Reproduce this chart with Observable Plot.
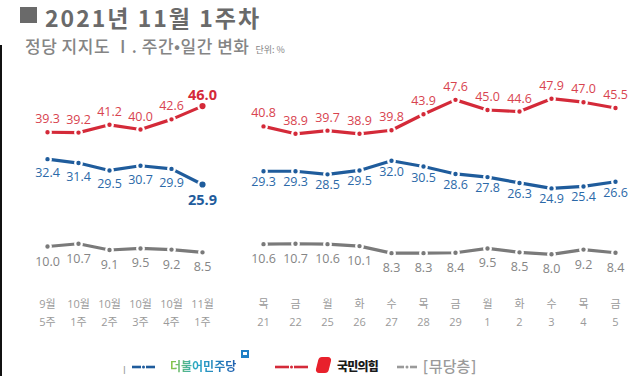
<!DOCTYPE html>
<html><head><meta charset="utf-8">
<script src="https://cdn.jsdelivr.net/npm/d3@7"></script>
<script src="https://cdn.jsdelivr.net/npm/@observablehq/plot@0.6"></script>
<style>
body{margin:0;background:#fff;width:639px;height:376px;overflow:hidden;position:relative;font-family:'Noto Sans CJK KR',sans-serif}
#border{position:absolute;left:0;top:45px;width:2px;bottom:0;background:#111}
#sq{position:absolute;left:20px;top:7px;width:17px;height:16px;background:#6a6a6a}
#title{position:absolute;left:45px;top:5px;font-size:23px;line-height:24px;font-weight:700;color:#6a6a6a;white-space:nowrap;letter-spacing:2px}
#sub{position:absolute;left:25px;top:35px;font-size:17px;line-height:22px;font-weight:500;color:#858585;white-space:nowrap;letter-spacing:0.5px}
#sub small{font-size:9px;font-weight:400;margin-left:6px;letter-spacing:0}
#left{position:absolute;left:0;top:60px}
#right{position:absolute;left:230px;top:60px}
.lg{position:absolute;white-space:nowrap}
</style></head><body>
<div id="border"></div>
<div id="sq"></div>
<div id="title">2021년 11월 1주차</div>
<div id="sub">정당 지지도 Ⅰ. 주간•일간 변화<small>단위: %</small></div>
<div id="left"></div>
<div id="right"></div>
<div id="legend"></div>
<script>
const leftLabels = ["9월\n5주","10월\n1주","10월\n2주","10월\n3주","10월\n4주","11월\n1주"];
const leftDP   = [32.4,31.4,29.5,30.7,29.9,25.9];
const leftPPP  = [39.3,39.2,41.2,40.0,42.6,46.0];
const leftNone = [10.0,10.7,9.1,9.5,9.2,8.5];

const rightLabels = ["목\n21","금\n22","월\n25","화\n26","수\n27","목\n28","금\n29","월\n1","화\n2","수\n3","목\n4","금\n5"];
const rightDP   = [29.3,29.3,28.5,29.5,32.0,30.5,28.6,27.8,26.3,24.9,25.4,26.6];
const rightPPP  = [40.8,38.9,39.7,38.9,39.8,43.9,47.6,45.0,44.6,47.9,47.0,45.5];
const rightNone = [10.6,10.7,10.6,10.1,8.3,8.3,8.4,9.5,8.5,8.0,9.2,8.4];

const seriesNames = ["더불어민주당","국민의힘","무당층"];
const RED = "#d42a39", BLUE = "#1f5c9c", GRAY = "#7a7a7a";
const RED_T = "#d8434f", BLUE_T = "#2b69a8", GRAY_T = "#858585";

function panel(labels, dp, ppp, none, width, ml, mr, emphasizeLast, blueDy) {
  const rows = labels.map((l, i) => ({l, i, dp: dp[i], ppp: ppp[i], none: none[i]}));
  const last = rows.length - 1;
  const norm = emphasizeLast ? rows.filter(d => d.i !== last) : rows;
  const lastRow = rows.filter(d => d.i === last);
  const font = "'Open Sans','Noto Sans CJK KR',sans-serif";
  const series = [
    {key: "ppp", c: RED, t: RED_T, dy: -13},
    {key: "dp", c: BLUE, t: BLUE_T, dy: blueDy},
    {key: "none", c: GRAY, t: GRAY_T, dy: 15}
  ];
  const marks = [
    Plot.axisX({tickSize: 0, tickPadding: 10, fontSize: 11, lineHeight: 1.6, color: "#9a9a9a", fontFamily: font})
  ];
  for (const s of series) {
    marks.push(Plot.line(rows, {x: "l", y: s.key, stroke: s.c, strokeWidth: 3.2}));
    marks.push(Plot.dot(norm, {x: "l", y: s.key, r: 3.3, fill: s.c, stroke: "white", strokeWidth: 2.2}));
    marks.push(Plot.text(norm, {x: "l", y: s.key, text: d => d[s.key].toFixed(1), dy: s.dy, fill: s.t, fontSize: 12.5, fontFamily: font}));
    if (emphasizeLast) {
      const big = s.key !== "none";
      marks.push(Plot.dot(lastRow, {x: "l", y: s.key, r: big ? 4.2 : 3.3, fill: s.c, stroke: "white", strokeWidth: 2.2}));
      marks.push(Plot.text(lastRow, {x: "l", y: s.key, text: d => d[s.key].toFixed(1), dy: big ? (s.key === "ppp" ? -11 : 16) : s.dy,
        fill: big ? s.c : s.t, fontSize: big ? 14.5 : 12.5, fontWeight: big ? "bold" : "normal", fontFamily: font}));
    }
  }
  return Plot.plot({
    width, height: 316,
    marginTop: 30, marginBottom: 91, marginLeft: ml, marginRight: mr,
    x: {type: "point", domain: labels, padding: 0, axis: null},
    y: {domain: [0, 50], axis: null},
    style: {background: "transparent", overflow: "visible"},
    marks
  });
}

document.getElementById("left").append(panel(leftLabels, leftDP, leftPPP, leftNone, 230, 46, 28, true, 14));
document.getElementById("right").append(panel(rightLabels, rightDP, rightPPP, rightNone, 409, 31, 22, false, 11));

// legend
function dashDot(color, w) {
  const d = Math.round((w - 6) / 2);
  return `<svg width="${w}" height="6" style="display:block"><line x1="0" x2="${d}" y1="3" y2="3" stroke="${color}" stroke-width="2.6"/><circle cx="${w/2}" cy="3" r="1.5" fill="${color}"/><line x1="${w-d}" x2="${w}" y1="3" y2="3" stroke="${color}" stroke-width="2.6"/></svg>`;
}
const lg = document.getElementById("legend");
lg.innerHTML = `
<div class="lg" style="left:132px;top:364px">${dashDot(BLUE, 23)}</div>
<div class="lg" style="left:170px;top:358px;font-size:12px;line-height:16px;font-weight:700;background:linear-gradient(90deg,#8cc63f 0%,#2aa8c8 40%,#1f5fb0 100%);-webkit-background-clip:text;background-clip:text;color:transparent">${seriesNames[0]}</div>
<div class="lg" style="left:241px;top:350px;width:8px;height:8px;background:#1e7fc6;box-sizing:border-box;border:2px solid #1e7fc6"><div style="width:4px;height:3px;background:#fff"></div></div>
<div class="lg" style="left:275px;top:364px">${dashDot(RED, 33)}</div>
<div class="lg" style="left:317px;top:357px;width:13px;height:16px;background:#e8212c;border-radius:3px 4px 3px 4px;transform:skew(-14deg)"></div>
<div class="lg" style="left:337px;top:358px;font-size:12px;line-height:16px;font-weight:900;color:#1a1a1a;letter-spacing:-0.8px">${seriesNames[1]}</div>
<div class="lg" style="left:397px;top:364px">${dashDot("#9a9a9a", 20)}</div>
<div class="lg" style="left:423px;top:357px;font-size:15px;line-height:17px;font-weight:500;color:#9a9a9a;font-family:'DejaVu Sans','Noto Sans CJK KR',sans-serif">[<span style="font-family:'Noto Sans CJK KR'">${seriesNames[2]}</span>]</div>
`;
</script>
</body></html>
